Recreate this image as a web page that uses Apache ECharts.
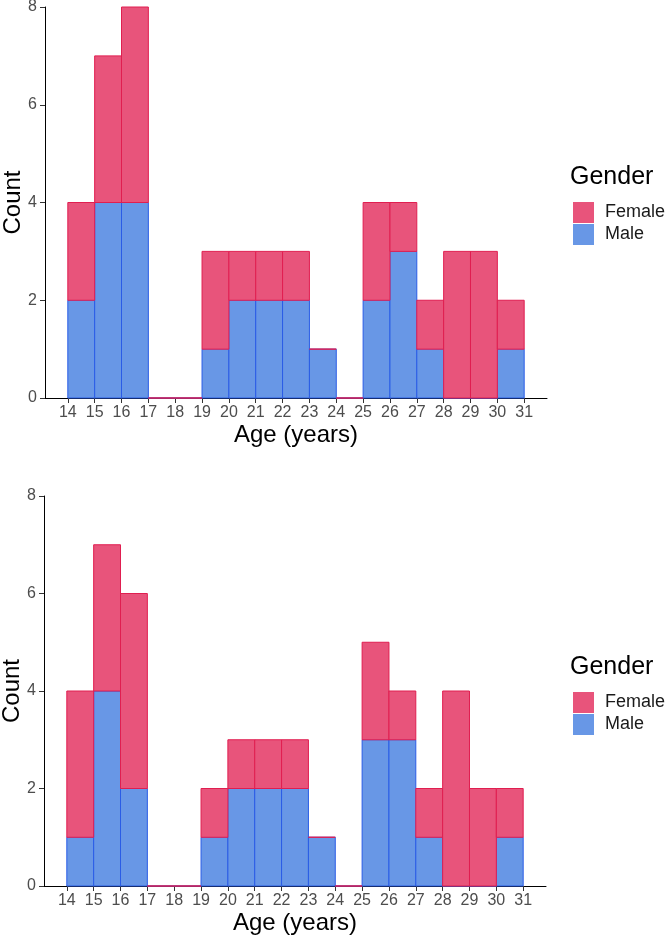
<!DOCTYPE html>
<html>
<head>
<meta charset="utf-8">
<script src="https://cdn.jsdelivr.net/npm/echarts@6/dist/echarts.min.js"></script>
<style>
html,body{margin:0;padding:0;background:#fff;}
#chart{width:666px;height:940px;}
</style>
</head>
<body>
<div id="chart"></div>
<script>
// Bin starts (each bin is [start, start+1))
const binStarts = [14,15,16,17,18,19,20,21,22,23,24,25,26,27,28,29,30];
const xTicks = [14,15,16,17,18,19,20,21,22,23,24,25,26,27,28,29,30,31];
const yTicks = [0,2,4,6,8];
// Top chart counts
const maleTop   = [2,4,4,0,0,1,2,2,2,1,0,2,3,1,0,0,1];
const femaleTop = [2,3,4,0,0,2,1,1,1,0,0,2,1,1,3,3,1];
// Bottom chart counts
const maleBottom   = [1,4,2,0,0,1,2,2,2,1,0,3,3,1,0,0,1];
const femaleBottom = [3,3,4,0,0,1,1,1,1,0,0,2,1,1,4,2,1];

const FEMALE_FILL = '#E8547B', FEMALE_LINE = '#E01E50';
const MALE_FILL = '#6897E6', MALE_LINE = '#2A5CE6';
const FONT = '"Liberation Sans", Arial, Helvetica, sans-serif';

function rectData(base, vals) {
  return binStarts.map((s, i) => [s, s + 1, base ? base[i] : 0, (base ? base[i] : 0) + vals[i]]);
}
function renderer(fill, stroke) {
  return function (params, api) {
    const p0 = api.coord([api.value(0), api.value(3)]);
    const p1 = api.coord([api.value(1), api.value(2)]);
    return {
      type: 'rect',
      shape: { x: p0[0], y: p0[1], width: p1[0] - p0[0], height: p1[1] - p0[1] },
      style: { fill: fill, stroke: stroke, lineWidth: 1 }
    };
  };
}

function xAxis(gi) {
  return {
    type: 'value', gridIndex: gi, min: 13.15, max: 31.85,
    name: 'Age (years)', nameLocation: 'middle', nameGap: 25, nameMoveOverlap: false,
    nameTextStyle: { fontSize: 24, color: '#000', fontFamily: FONT },
    axisLine: { show: true, lineStyle: { color: '#000', width: 1 } },
    axisTick: { show: true, length: 5, lineStyle: { color: '#333' }, customValues: xTicks },
    axisLabel: { fontSize: 16, color: '#4D4D4D', margin: 7, fontFamily: FONT, customValues: xTicks },
    splitLine: { show: false }
  };
}
function yAxis(gi) {
  return {
    type: 'value', gridIndex: gi, min: 0, max: 8, interval: 2,
    name: 'Count', nameLocation: 'middle', nameGap: 20, nameMoveOverlap: false,
    nameTextStyle: { fontSize: 24, color: '#000', fontFamily: FONT },
    axisLine: { show: true, lineStyle: { color: '#000', width: 1 } },
    axisTick: { show: true, length: 5, lineStyle: { color: '#333' } },
    axisLabel: { fontSize: 16, color: '#4D4D4D', margin: 8, fontFamily: FONT },
    splitLine: { show: false }
  };
}
function series(gi, male, female) {
  return [
    { type: 'custom', name: 'Male', xAxisIndex: gi, yAxisIndex: gi,
      renderItem: renderer(MALE_FILL, MALE_LINE), encode: { x: [0, 1], y: [2, 3] },
      itemStyle: { color: MALE_FILL }, data: rectData(null, male) },
    { type: 'custom', name: 'Female', xAxisIndex: gi, yAxisIndex: gi,
      renderItem: renderer(FEMALE_FILL, FEMALE_LINE), encode: { x: [0, 1], y: [2, 3] },
      itemStyle: { color: FEMALE_FILL }, data: rectData(male, female) }
  ];
}
function legend(top) {
  return {
    orient: 'vertical', left: 568, top: top, itemWidth: 21, itemHeight: 21, itemGap: 1,
    icon: 'rect', data: ['Female', 'Male'], selectedMode: false,
    itemStyle: { borderWidth: 0 },
    textStyle: { fontSize: 18, color: '#1A1A1A', fontFamily: FONT, padding: [0, 0, 0, 6] }
  };
}

const chart = echarts.init(document.getElementById('chart'), null, { renderer: 'canvas' });
chart.setOption({
  animation: false,
  backgroundColor: '#fff',
  title: [
    { text: 'Gender', left: 565, top: 160, textStyle: { fontSize: 25, fontWeight: 'normal', color: '#000', fontFamily: FONT } },
    { text: 'Gender', left: 565, top: 650, textStyle: { fontSize: 25, fontWeight: 'normal', color: '#000', fontFamily: FONT } }
  ],
  legend: [legend(197), legend(687)],
  grid: [
    { left: 45, top: 7, width: 502, height: 391, containLabel: false, outerBoundsMode: 'none' },
    { left: 44, top: 496, width: 502, height: 390, containLabel: false, outerBoundsMode: 'none' }
  ],
  xAxis: [xAxis(0), xAxis(1)],
  yAxis: [yAxis(0), yAxis(1)],
  series: [].concat(series(0, maleTop, femaleTop), series(1, maleBottom, femaleBottom))
});
</script>
</body>
</html>
